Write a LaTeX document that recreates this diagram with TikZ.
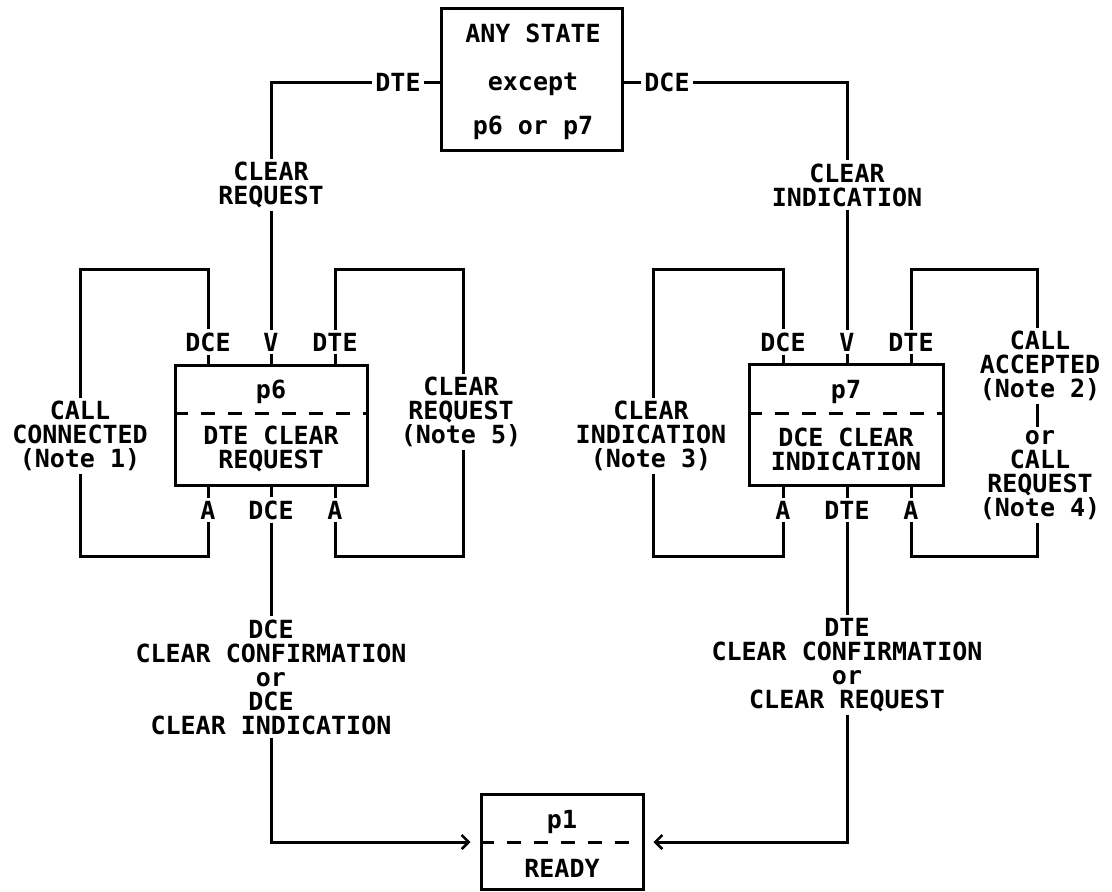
\documentclass[tikz,border=0pt]{standalone}
\usepackage{fontspec}
\setmainfont{DejaVu Sans Mono}
\usetikzlibrary{arrows.meta}
\tikzset{
  lab/.style={font=\fontsize{25}{24}\selectfont\bfseries, inner sep=3pt, align=center},
  box/.style={draw, line width=3pt},
  wire/.style={line width=3pt},
  dsh/.style={line width=3pt, dash pattern=on 14pt off 13pt},
  tip/.style={-{Straight Barb[length=7pt,width=14pt,line width=2.6pt]}, shorten >=9pt}
}
\begin{document}
\begin{tikzpicture}[x=1pt,y=-1pt]
\useasboundingbox[fill=white] (0,0) rectangle (1112,892);
% top state
\node[box, minimum width=181pt, minimum height=142pt] (any) at (532,79) {};
\node[lab] (t1) at (533,33) {ANY STATE};
\node[lab] (t2) at (533,84) {except};
\node[lab] (t3) at (533,128) {p6 or p7};
\node[lab] (dteL) at (398,82) {DTE};
\node[lab] (dceR) at (667,82) {DCE};
\draw[wire] (dteL.east) -- (dteL.east -| any.west);
\draw[wire] (dceR.west) -- (dceR.west -| any.east);
\node[lab] (crq) at (271,185) {CLEAR\\REQUEST};
\node[lab] (cin) at (847,185) {CLEAR\\INDICATION};
\draw[wire] (dteL.west) -| (crq.north);
\draw[wire] (dceR.east) -| (cin.north);
% p6
\node[box, minimum width=192pt, minimum height=120pt] (p6) at (271,425) {};
\node[lab] (p6n) at (271,392) {p6};
\draw[dsh] (p6.west |- 0,413) -- (p6.east |- 0,413);
\node[lab] (p6t) at (271,449) {DTE CLEAR\\REQUEST};
\node[lab] (p6a) at (208,342) {DCE};
\node[lab] (p6b) at (271,342) {V};
\node[lab] (p6c) at (335,342) {DTE};
\node[lab] (p6d) at (208,510) {A};
\node[lab] (p6e) at (271,510) {DCE};
\node[lab] (p6f) at (335,510) {A};
\foreach \n in {p6a,p6b,p6c} \draw[wire] (\n.south) -- (\n.south |- p6.north);
\foreach \n in {p6d,p6e,p6f} \draw[wire] (\n.north) -- (\n.north |- p6.south);
\draw[wire] (crq.south) -- (crq.south |- p6b.north);
\coordinate (l6a) at (80,269);
\coordinate (l6b) at (80,556);
\node[lab] (cc) at (80,436) {CALL\\CONNECTED\\(Note 1)};
\draw[wire] (p6a.north) |- (l6a) -- (l6a |- cc.north);
\draw[wire] (l6b |- cc.south) -- (l6b) -| (p6d.south);
\coordinate (r6a) at (463,269);
\coordinate (r6b) at (463,556);
\node[lab] (cr5) at (461,412) {CLEAR\\REQUEST\\(Note 5)};
\draw[wire] (p6c.north) |- (r6a) -- (r6a |- cr5.north);
\draw[wire] (r6b |- cr5.south) -- (r6b) -| (p6f.south);
\node[lab] (bl) at (271,677) {DCE\\CLEAR CONFIRMATION\\or\\DCE\\CLEAR INDICATION};
\draw[wire] (p6e.south) -- (p6e.south |- bl.north);
% p7
\node[box, minimum width=194pt, minimum height=121pt] (p7) at (846,425) {};
\node[lab] (p7n) at (846,392) {p7};
\draw[dsh] (p7.west |- 0,413) -- (p7.east |- 0,413);
\node[lab] (p7t) at (846,449) {DCE CLEAR\\INDICATION};
\node[lab] (p7a) at (783,342) {DCE};
\node[lab] (p7b) at (847,342) {V};
\node[lab] (p7c) at (911,342) {DTE};
\node[lab] (p7d) at (783,510) {A};
\node[lab] (p7e) at (847,510) {DTE};
\node[lab] (p7f) at (911,510) {A};
\foreach \n in {p7a,p7b,p7c} \draw[wire] (\n.south) -- (\n.south |- p7.north);
\foreach \n in {p7d,p7e,p7f} \draw[wire] (\n.north) -- (\n.north |- p7.south);
\draw[wire] (cin.south) -- (cin.south |- p7b.north);
\coordinate (l7a) at (653,269);
\coordinate (l7b) at (653,556);
\node[lab] (ci3) at (651,436) {CLEAR\\INDICATION\\(Note 3)};
\draw[wire] (p7a.north) |- (l7a) -- (l7a |- ci3.north);
\draw[wire] (l7b |- ci3.south) -- (l7b) -| (p7d.south);
\coordinate (r7a) at (1037,269);
\coordinate (r7b) at (1037,556);
\node[lab] (ca) at (1040,366) {CALL\\ACCEPTED\\(Note 2)};
\node[lab] (cr4) at (1040,475) {or\\CALL\\REQUEST\\(Note 4)};
\draw[wire] (p7c.north) |- (r7a) -- (r7a |- ca.north);
\draw[wire] (r7a |- ca.south) -- (r7a |- cr4.north);
\draw[wire] (r7b |- cr4.south) -- (r7b) -| (p7f.south);
\node[lab] (br) at (847,665) {DTE\\CLEAR CONFIRMATION\\or\\CLEAR REQUEST};
\draw[wire] (p7e.south) -- (p7e.south |- br.north);
% p1
\node[box, minimum width=162pt, minimum height=95pt] (p1) at (562,842) {};
\node[lab] (p1n) at (562,822) {p1};
\node[lab] (p1r) at (562,868) {READY};
\draw[dsh] (p1.west) -- (p1.east);
\draw[wire, tip] (bl.south) |- (p1.west);
\draw[wire, tip] (br.south) |- (p1.east);
\end{tikzpicture}
\end{document}
